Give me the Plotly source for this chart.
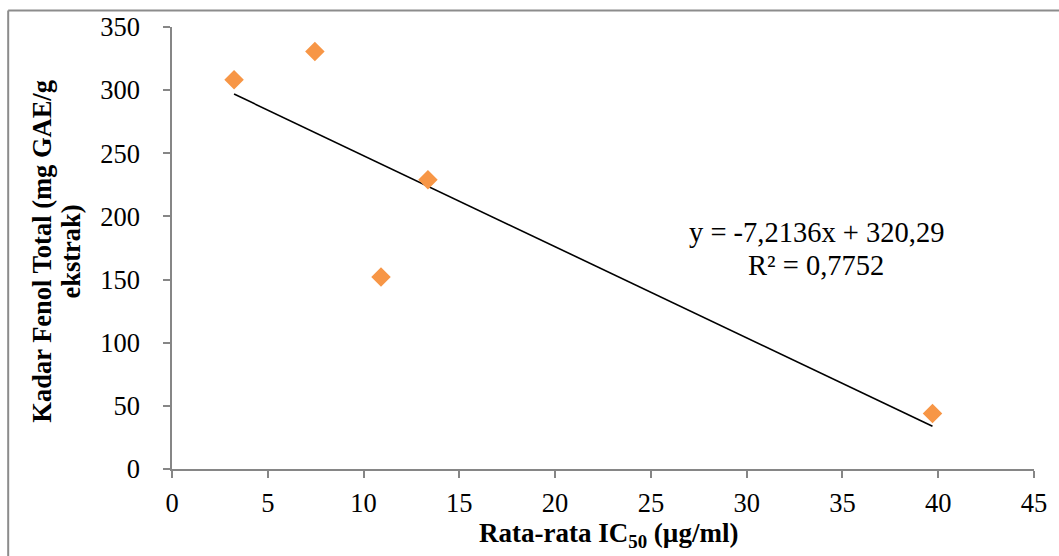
import plotly.graph_objects as go

# Data
ic50 = [3.24, 7.46, 10.91, 13.36, 39.70]          # Rata-rata IC50 (µg/ml)
fenol = [308.3, 330.6, 152.0, 229.0, 44.0]        # Kadar Fenol Total (mg GAE/g ekstrak)
slope = -7.2136
intercept = 320.29
r2_text = "0,7752"
x_ticks = [0, 5, 10, 15, 20, 25, 30, 35, 40, 45]
y_ticks = [0, 50, 100, 150, 200, 250, 300, 350]

FONT = "Liberation Serif, Times New Roman, serif"
AXIS_COLOR = "#868686"

x_line = [min(ic50), max(ic50)]
y_line = [slope * v + intercept for v in x_line]

fig = go.Figure()
fig.add_trace(go.Scatter(
    x=x_line, y=y_line, mode="lines",
    line=dict(color="black", width=1.6), showlegend=False, hoverinfo="skip"))
fig.add_trace(go.Scatter(
    x=ic50, y=fenol, mode="markers",
    marker=dict(symbol="diamond", size=15, color="#F79646", line=dict(width=0)),
    showlegend=False))

W, H = 1059, 556
ml, mr, mt, mb = 172, 24, 24, 87
pw, ph = W - ml - mr, H - mt - mb

def px2x(px):
    return (px - ml) / pw

def py2y(py):
    return (H - mb - py) / ph

def fmt(v):
    return str(v).replace(".", ",")

fig.update_layout(
    width=W, height=H,
    margin=dict(l=ml, r=mr, t=mt, b=mb),
    paper_bgcolor="white", plot_bgcolor="white",
    font=dict(family=FONT, color="black", size=26),
    xaxis=dict(range=[0, 45], tickvals=x_ticks, ticktext=[str(v) for v in x_ticks],
               showgrid=False, zeroline=False, showline=True, linecolor=AXIS_COLOR,
               linewidth=1.5, ticks="outside", ticklen=7, tickcolor=AXIS_COLOR,
               tickwidth=1.5, tickfont=dict(size=26.5, family=FONT),
               ticklabelstandoff=2),
    yaxis=dict(range=[0, 350], tickvals=y_ticks, ticktext=[str(v) for v in y_ticks],
               showgrid=False, zeroline=False, showline=True, linecolor=AXIS_COLOR,
               linewidth=1.5, ticks="outside", ticklen=7, tickcolor=AXIS_COLOR,
               tickwidth=1.5, tickfont=dict(size=26.5, family=FONT),
               ticklabelstandoff=18),
    annotations=[
        dict(x=px2x(817), y=py2y(231), xref="paper", yref="paper",
             xanchor="center", yanchor="middle",
             text=f"y = {fmt(slope)}x + {fmt(intercept)}",
             showarrow=False, font=dict(size=28.5, family=FONT)),
        dict(x=px2x(817), y=py2y(264), xref="paper", yref="paper",
             xanchor="center", yanchor="middle",
             text=f"R² = {r2_text}",
             showarrow=False, font=dict(size=28.5, family=FONT)),
        dict(x=px2x(609), y=py2y(535), xref="paper", yref="paper",
             xanchor="center", yanchor="middle",
             text="<b>Rata-rata IC<sub>50</sub> (µg/ml)</b>",
             showarrow=False, font=dict(size=27, family=FONT)),
        dict(x=px2x(42), y=py2y(250), xref="paper", yref="paper",
             xanchor="center", yanchor="middle",
             text="<b>Kadar Fenol Total (mg GAE/g</b>", textangle=-90,
             showarrow=False, font=dict(size=26.5, family=FONT)),
        dict(x=px2x(71), y=py2y(250), xref="paper", yref="paper",
             xanchor="center", yanchor="middle",
             text="<b>ekstrak)</b>", textangle=-90,
             showarrow=False, font=dict(size=26.5, family=FONT)),
    ],
    shapes=[
        dict(type="line", xref="paper", yref="paper",
             x0=px2x(8), x1=px2x(1070), y0=py2y(7.5), y1=py2y(7.5),
             line=dict(color="#8c8c8c", width=2)),
        dict(type="line", xref="paper", yref="paper",
             x0=px2x(8), x1=px2x(8), y0=py2y(7.5), y1=py2y(570),
             line=dict(color="#8c8c8c", width=2)),
    ],
)

fig.write_html("out.html")
